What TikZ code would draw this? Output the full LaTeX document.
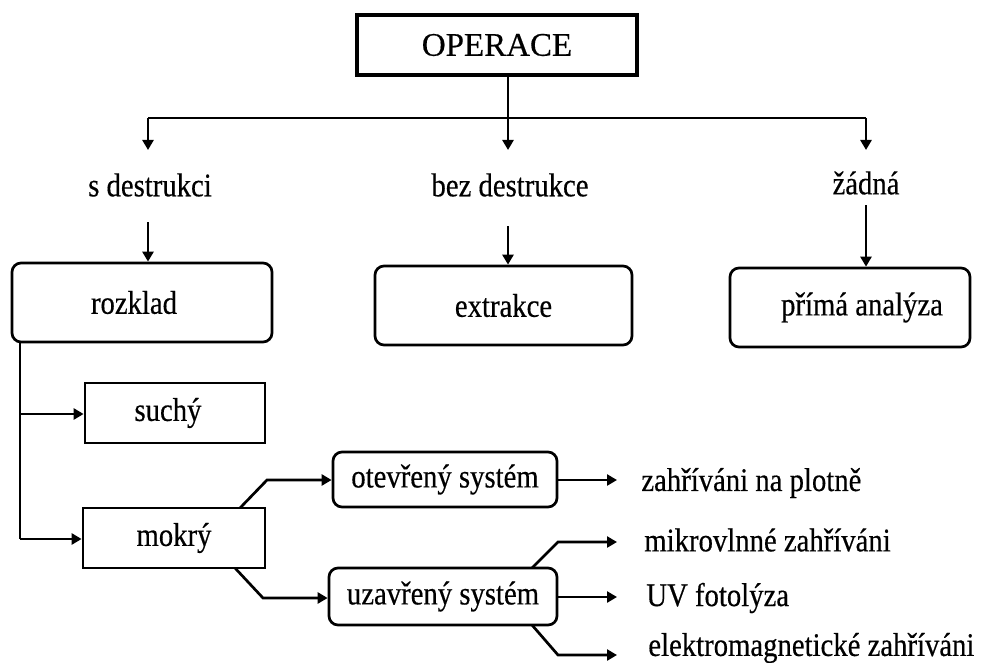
\documentclass[tikz,border=0pt]{standalone}
\usepackage{fontspec}
\setmainfont{Liberation Serif}[FakeStretch=0.87,FakeBold=0.4]
\newfontfamily\opfont{Liberation Serif}[FakeBold=0.4]
\usetikzlibrary{arrows.meta}
\begin{document}
\begin{tikzpicture}[x=1pt,y=-1pt,
  font=\fontsize{33}{36}\selectfont,
  line width=2.7pt,
  conn/.style={line width=2.7pt},
  arr/.style={line width=2.7pt,-{Triangle[length=10pt,width=11pt]}},
  sqbox/.style={draw,line width=2.7pt,inner sep=0pt,anchor=center},
  rbox/.style={draw,line width=2.7pt,rounded corners=9pt,inner sep=0pt,anchor=center},
  lbl/.style={inner sep=0pt,anchor=center},
  leaf/.style={inner sep=0pt,anchor=west}]
\useasboundingbox (0,0) rectangle (984,663);
% top
\node[sqbox,line width=4pt,minimum width=280pt,minimum height=60pt,font=\opfont\fontsize{33}{36}\selectfont] (op) at (497,45) {OPERACE};
\node[lbl] (sd) at (150,185) {s destrukci};
\node[lbl] (bd) at (510,185) {bez destrukce};
\node[lbl] (zd) at (866,183) {žádná};
\coordinate (j) at (508,118);
\coordinate (jl) at (148,118);
\coordinate (jr) at (866,118);
\coordinate (t1) at (148,150);
\coordinate (t2) at (508,150);
\coordinate (t3) at (866,150);
\draw[conn] (op.south -| j) -- (j);
\draw[conn] (jl) -- (jr);
\draw[arr] (jl) -- (t1);
\draw[arr] (j) -- (t2);
\draw[arr] (jr) -- (t3);
% second row boxes
\node[rbox,minimum width=260pt,minimum height=79pt] (roz) at (142,302.5) {rozklad\kern16pt};
\node[rbox,minimum width=257pt,minimum height=79pt] (ext) at (503.5,305.5) {extrakce};
\node[rbox,minimum width=240pt,minimum height=79pt] (pri) at (850,307.5) {\kern24pt přímá analýza};
\coordinate (s1) at (148,222);
\coordinate (s2) at (508,226);
\coordinate (s3) at (866,205);
\draw[arr] (s1) -- (s1 |- roz.north);
\draw[arr] (s2) -- (s2 |- ext.north);
\draw[arr] (s3) -- (s3 |- pri.north);
% rozklad branch
\node[sqbox,minimum width=180pt,minimum height=60pt] (such) at (175,413) {suchý\kern14pt};
\node[sqbox,minimum width=182pt,minimum height=60pt] (mok) at (174,538) {mokrý};
\coordinate (r0) at (20,342);
\coordinate (r1) at (20,414);
\coordinate (r2) at (20,539);
\draw[conn] (r0) -- (r2);
\draw[arr] (r1) -- (r1 -| such.west);
\draw[arr] (r2) -- (r2 -| mok.west);
% systems
\node[rbox,minimum width=224pt,minimum height=55pt] (ote) at (445,479.5) {otevřený systém};
\node[rbox,minimum width=228pt,minimum height=57pt] (uza) at (443,596.5) {uzavřený systém};
\coordinate (m1) at (240,508);
\coordinate (m1b) at (267,480);
\coordinate (m2) at (235,568);
\coordinate (m2b) at (263,598);
\draw[arr] (m1) -- (m1b) -- (m1b -| ote.west);
\draw[arr] (m2) -- (m2b) -- (m2b -| uza.west);
% leaves
\node[leaf] (l1) at (640,483) {zahříváni na plotně};
\node[leaf] (l2) at (643,540) {mikrovlnné zahříváni};
\node[leaf] (l3) at (645,598) {UV fotolýza};
\node[leaf] (l4) at (647,648) {elektromagnetické zahříváni};
\coordinate (e1) at (617,480);
\coordinate (e2) at (617,542);
\coordinate (e3) at (617,597);
\coordinate (e4) at (617,655);
\coordinate (u1) at (532,568);
\coordinate (u1b) at (558,542);
\coordinate (u3) at (532,625);
\coordinate (u3b) at (558,655);
\draw[arr] (ote.east |- e1) -- (e1);
\draw[arr] (u1) -- (u1b) -- (e2);
\draw[arr] (uza.east |- e3) -- (e3);
\draw[arr] (u3) -- (u3b) -- (e4);
\end{tikzpicture}
\end{document}
